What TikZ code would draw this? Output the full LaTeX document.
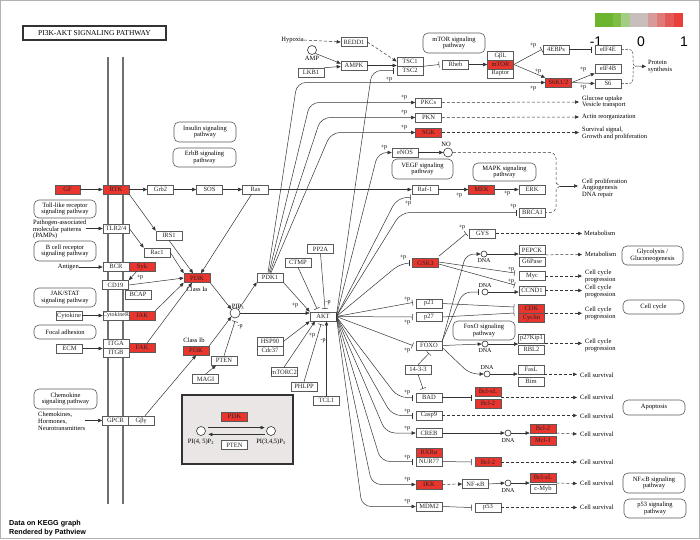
\documentclass[tikz,border=0pt]{standalone}
\usepackage{fontspec}
\setmainfont{Liberation Serif}
\newfontfamily\sansf{Liberation Sans}
\usetikzlibrary{arrows.meta}
\definecolor{hitred}{HTML}{E8352D}
\definecolor{boxc}{HTML}{5A5A5A}
\definecolor{linec}{HTML}{333333}
\definecolor{boxg}{HTML}{EAE6E6}
\definecolor{membc}{HTML}{707070}
\definecolor{cg1}{HTML}{6DB52F}
\definecolor{cg2}{HTML}{7DBD45}
\definecolor{cg3}{HTML}{A3CD85}
\definecolor{cgy}{HTML}{C8BEBC}
\definecolor{cr1}{HTML}{D79A98}
\definecolor{cr2}{HTML}{DE7B79}
\definecolor{cr3}{HTML}{E45A56}
\definecolor{cr4}{HTML}{E8403A}
\newcommand{\kgf}{\fontsize{6.5}{6.6}\selectfont}
\newcommand{\kpf}{\fontsize{6}{6}\selectfont}
\newcommand{\kgs}{\fontsize{6}{6}\selectfont}
\begin{document}
\begin{tikzpicture}[x=1pt,y=-1pt,
  gene/.style={draw=boxc, fill=white, line width=0.6pt, minimum width=26pt, minimum height=9pt, inner sep=0pt, font=\kgf, text=black!85},
  hit/.style={fill=hitred},
  pw/.style={draw=boxc, fill=white, rounded corners=5pt, line width=0.6pt, align=center, font=\kgf, inner sep=0pt},
  lbl/.style={font=\kgf, inner sep=0pt, align=left},
  pp/.style={font=\kpf, inner sep=0pt},
  met/.style={circle, draw=linec, fill=white, line width=0.6pt, inner sep=0pt, minimum size=9pt},
  dna/.style={circle, draw=linec, fill=white, line width=0.6pt, inner sep=0pt, minimum size=6pt},
  act/.style={draw=linec, line width=0.5pt, -{Triangle[length=4pt,width=3.4pt]}},
  inh/.style={draw=linec, line width=0.5pt, -{Bar[width=6pt]}},
  dsh/.style={act, dash pattern=on 3pt off 2pt},
  rnd/.style={rounded corners=9pt},
  memb/.style={draw=membc, line width=2.4pt}]
\useasboundingbox (0,0) rectangle (700,539);
\draw[gray!60, line width=1pt] (0.5,0.5) rectangle (699.5,538.5);

% colour key
\foreach \c [count=\i] in {cg1,cg1,cg2,cg3,cgy,cgy,cr1,cr2,cr3,cr4}
  \fill[\c] ({595+(\i-1)*8.8},13) rectangle ({595+\i*8.8},27);
\node[font=\sansf\fontsize{14}{14}\selectfont, inner sep=0] (km) at (596,42) {-1};
\node[font=\sansf\fontsize{14}{14}\selectfont, inner sep=0] (k0) at (641,42) {0};
\node[font=\sansf\fontsize{14}{14}\selectfont, inner sep=0] (k1) at (684,42) {1};

% title
\node[draw=linec, line width=1.2pt, minimum width=143pt, minimum height=14pt, inner sep=0, font=\fontsize{7.5}{7.5}\selectfont] (title) at (94.5,33) {PI3K-AKT SIGNALING PATHWAY};

% membrane
\draw[memb] (108,57) -- (108,504);
\draw[memb] (123,57) -- (123,504);

% pathway boxes
\node[pw, minimum width=62pt, minimum height=20pt] (pwIns) at (205,132) {Insulin signaling\\pathway};
\node[pw, minimum width=63pt, minimum height=19pt] (pwErb) at (204.5,157.5) {ErbB signaling\\pathway};
\node[pw, minimum width=62pt, minimum height=18pt] (pwToll) at (65,209) {Toll-like receptor\\signaling pathway};
\node[pw, minimum width=62pt, minimum height=20pt] (pwBc) at (65,251) {B cell receptor\\signaling pathway};
\node[pw, minimum width=62pt, minimum height=19pt] (pwJak) at (65,297.5) {JAK/STAT\\signaling pathway};
\node[pw, minimum width=62pt, minimum height=14pt] (pwFoc) at (65,332) {Focal adhesion};
\node[pw, minimum width=63pt, minimum height=20pt] (pwChem) at (65.5,399) {Chemokine\\signaling pathway};
\node[pw, minimum width=62pt, minimum height=20pt] (pwMtor) at (454,43) {mTOR signaling\\pathway};
\node[pw, minimum width=61pt, minimum height=20pt] (pwVegf) at (422.5,169) {VEGF signaling\\pathway};
\node[pw, minimum width=63pt, minimum height=18pt] (pwMapk) at (504.5,172) {MAPK signaling\\pathway};
\node[pw, minimum width=62pt, minimum height=19pt] (pwFoxo) at (484,330.5) {FoxO signaling\\pathway};
\node[pw, minimum width=61pt, minimum height=19pt] (pwGly) at (652.5,255.5) {Glycolysis /\\Gluconeogenesis};
\node[pw, minimum width=61pt, minimum height=14pt] (pwCC) at (653.5,307) {Cell cycle};
\node[pw, minimum width=62pt, minimum height=15pt] (pwApo) at (654,407.5) {Apoptosis};
\node[pw, minimum width=62pt, minimum height=20pt] (pwNfkb) at (654,483) {NF$\kappa$B signaling\\pathway};
\node[pw, minimum width=62pt, minimum height=19pt] (pwP53) at (655,508.5) {p53 signaling\\pathway};

% free texts
\node[lbl, anchor=east] (hyp) at (304,40) {Hypoxia};
\node[lbl, anchor=west] (pamp) at (33,229.5) {Pathogen-associated\\molecular patterns\\(PAMPs)};
\node[lbl, anchor=east] (antig) at (79,267) {Antigen};
\node[lbl, anchor=west, font=\fontsize{6.5}{7}\selectfont] (chemo) at (38,421) {Chemokines,\\Hormones,\\Neurotransmitters};
\node[lbl] (cla) at (197,289.5) {Class Ia};
\node[lbl] (clb) at (194,340) {Class Ib};

% left genes
\node[gene,hit,minimum width=25pt] (GF) at (67.5,189.5) {GF};
\node[gene,hit] (RTK) at (116,189.5) {RTK};
\node[gene] (Grb2) at (160.5,189.5) {Grb2};
\node[gene] (SOS) at (209.5,189.5) {SOS};
\node[gene] (Ras) at (255.5,189.5) {Ras};
\node[gene] (TLR) at (116,228.5) {TLR2/4};
\node[gene] (IRS1) at (169,235.5) {IRS1};
\node[gene] (Rac1) at (157,252.5) {Rac1};
\node[gene] (BCR) at (116,266.5) {BCR};
\node[gene,hit] (Syk) at (142,266.5) {Syk};
\node[gene] (CD19) at (115.5,285) {CD19};
\node[gene] (BCAP) at (138,294.5) {BCAP};
\node[gene,hit] (PIKa) at (197,278) {PI3K};
\node[gene] (CytR) at (116,315.5) {\kgs CytokineR};
\node[gene,hit] (JAK) at (142,315.5) {JAK};
\node[gene] (Cyt) at (69,315.5) {Cytokine};
\node[gene] (ECM) at (69.5,348.5) {ECM};
\node[gene] (ITGA) at (116,343.5) {ITGA};
\node[gene] (ITGB) at (116,352.5) {ITGB};
\node[gene,hit] (FAK) at (142,347.5) {FAK};
\node[gene,hit] (PIKb) at (196,350.5) {PI3K};
\node[gene] (PTEN) at (224,360.5) {PTEN};
\node[gene] (MAGI) at (205.5,379) {MAGI};
\node[gene] (PDK1) at (270,277.5) {PDK1};
\node[gene] (AKT) at (323,316.5) {AKT};
\node[gene] (HSP) at (270,341.5) {HSP90};
\node[gene] (Cdc) at (270,350.5) {Cdc37};
\node[gene] (mTC2) at (284,372) {mTORC2};
\node[gene] (PHLPP) at (304,386.5) {PHLPP};
\node[gene] (TCL1) at (326.5,400.5) {TCL1};
\node[gene] (CTMP) at (298,262.5) {CTMP};
\node[gene] (PP2A) at (320.5,249) {PP2A};
\node[gene] (GPCR) at (115.5,420.5) {GPCR};
\node[gene] (Gbg) at (141,420.5) {Gβγ};
\node[met, minimum size=10pt] (pip3) at (235,313) {};
\node[lbl] (pip3l) at (238,306.5) {PIP\textsubscript{3}};

% inset box
\draw[draw=linec, fill=boxg, line width=1.4pt] (182,395) rectangle (293,464);
\node[gene,hit] (PIKc) at (234.5,416.5) {PI3K};
\node[gene] (PTENc) at (234.5,445) {PTEN};
\node[met] (PIP2) at (201,431) {};
\node[met] (PIP3b) at (271,431) {};
\node[lbl] (PIP2l) at (201,441.5) {PI(4, 5)P\textsubscript{2}};
\node[lbl] (PIP3bl) at (271,442) {PI(3,4,5)P\textsubscript{3}};
\draw[act] ([xshift=4pt]PIP2.north east) -- ([xshift=-3pt]PIP3b.north west);
\draw[act] ([xshift=-3pt]PIP3b.south west) -- ([xshift=4pt]PIP2.south east);

% top genes
\node[gene] (REDD1) at (354,42) {REDD1};
\node[gene] (AMPK) at (354,65.5) {AMPK};
\node[gene] (LKB1) at (311,72.5) {LKB1};
\node[met] (amp) at (312,50) {};
\node[lbl] (ampl) at (312,58) {AMP};
\node[gene] (TSC1) at (410,61.5) {TSC1};
\node[gene] (TSC2) at (410,70.5) {TSC2};
\node[gene] (Rheb) at (455.5,64.5) {Rheb};
\node[gene] (GbL) at (500.5,55.5) {GβL};
\node[gene,hit] (mTOR) at (500.5,64.5) {mTOR};
\node[gene] (Raptor) at (500.5,73.5) {Raptor};
\node[gene] (EBP) at (556,49.5) {4EBPs};
\node[gene] (eIFE) at (608,49.5) {eIF4E};
\node[gene] (eIFB) at (608,68.5) {eIF4B};
\node[gene] (S6) at (608,83.5) {S6};
\node[gene,hit] (S6K) at (558.5,82.5) {S6K1/2};
\node[gene] (PKC) at (428.5,102.5) {PKCs};
\node[gene] (PKN) at (428.5,117.5) {PKN};
\node[gene,hit] (SGK) at (428.5,132.5) {SGK};
\node[gene] (eNOS) at (405,152.5) {eNOS};
\node[met] (no) at (448,152.5) {};
\node[lbl] (nol) at (446,144.5) {NO};
\node[gene] (Raf) at (425,189.5) {Raf-1};
\node[gene,hit] (MEK) at (481.5,189.5) {MEK};
\node[gene] (ERK) at (532,189.5) {ERK};
\node[gene] (BRCA) at (532.5,212.5) {BRCA1};

% right genes
\node[gene] (GYS) at (482.5,233.5) {GYS};
\node[gene,hit] (GSK) at (425.5,263) {GSK3};
\node[gene] (PEPCK) at (532,250) {PEPCK};
\node[gene] (G6P) at (532,261.5) {G6Pase};
\node[gene] (Myc) at (532,276) {Myc};
\node[gene] (CCND) at (532,290.5) {CCND1};
\node[gene,hit] (CDK) at (531.5,308.5) {CDK};
\node[gene,hit] (Cyc) at (531.5,317.5) {Cyclin};
\node[gene] (p21) at (429,303.5) {p21};
\node[gene] (p27) at (429,317) {p27};
\node[gene] (FOXO) at (429,345.5) {FOXO};
\node[gene] (Kip) at (531.5,338.5) {p27Kip1};
\node[gene] (RBL) at (531.5,349.5) {RBL2};
\node[gene] (F1433) at (418,369.5) {14-3-3};
\node[gene] (FasL) at (531,369.5) {FasL};
\node[gene] (Bim) at (531,381.5) {Bim};
\node[gene] (BAD) at (429,397.5) {BAD};
\node[gene] (Casp) at (429,415.5) {Casp9};
\node[gene] (CREB) at (429,433) {CREB};
\node[gene,hit] (RXR) at (429,452.5) {RXRα};
\node[gene] (NUR) at (429,461.5) {NUR77};
\node[gene,hit] (IKK) at (429,484.5) {IKK};
\node[gene] (MDM) at (429,506.5) {MDM2};
\node[gene,hit] (BxA) at (488,391.5) {Bcl-xL};
\node[gene,hit] (B2A) at (488,403.5) {Bcl-2};
\node[gene,hit] (B2B) at (543,428.5) {Bcl-2};
\node[gene,hit] (Mcl) at (543,440.5) {Mcl-1};
\node[gene,hit] (B2C) at (488,462) {Bcl-2};
\node[gene] (NFkB) at (475.5,484) {NF-κB};
\node[gene,hit] (BxB) at (543,477.5) {Bcl-xL};
\node[gene] (cMyb) at (543,488.5) {c-Myb};
\node[gene] (p53) at (488,507.5) {p53};

% DNA
\node[dna] (dna1) at (484,254) {};
\node[dna] (dna2) at (485,292) {};
\node[dna] (dna3) at (485,344) {};
\node[dna] (dna4) at (487,374) {};
\node[dna] (dna5) at (508,433) {};
\node[dna] (dna6) at (508,483) {};
\node[pp] (d1l) at (484,261) {DNA};
\node[pp] (d2l) at (485,285.5) {DNA};
\node[pp] (d3l) at (485,351) {DNA};
\node[pp] (d4l) at (487,367.5) {DNA};
\node[pp] (d5l) at (508,441) {DNA};
\node[pp] (d6l) at (508,491) {DNA};

% outcomes
\node[lbl, anchor=west] (oGlu) at (582,102) {Glucose uptake\\Vesicle transport};
\node[lbl, anchor=west] (oAct) at (582,117) {Actin reorganization};
\node[lbl, anchor=west] (oSur) at (582,133.5) {Survival signal,\\Growth and proliferation};
\node[lbl, anchor=west] (oProl) at (582,188) {Cell proliferation\\Angiogenesis\\DNA repair};
\node[lbl, anchor=west] (oProt) at (648,66.5) {Protein\\synthesis};
\node[lbl, anchor=west] (oMet1) at (584,233.5) {Metabolism};
\node[lbl, anchor=west] (oMet2) at (585,254.5) {Metabolism};
\node[lbl, anchor=west] (oCC1) at (585,276.5) {Cell cycle\\progression};
\node[lbl, anchor=west] (oCC2) at (585,291.5) {Cell cycle\\progression};
\node[lbl, anchor=west] (oCC3) at (585,313.5) {Cell cycle\\progression};
\node[lbl, anchor=west] (oCC4) at (585,345.5) {Cell cycle\\progression};
\node[lbl, anchor=west] (oCS1) at (580,375) {Cell survival};
\node[lbl, anchor=west] (oCS2) at (580,397.5) {Cell survival};
\node[lbl, anchor=west] (oCS3) at (580,416) {Cell survival};
\node[lbl, anchor=west] (oCS4) at (580,434) {Cell survival};
\node[lbl, anchor=west] (oCS5) at (580,462) {Cell survival};
\node[lbl, anchor=west] (oCS6) at (580,483.5) {Cell survival};
\node[lbl, anchor=west] (oCS7) at (580,507.5) {Cell survival};

\node[anchor=west, align=left, inner sep=0, font=\sansf\bfseries\fontsize{7.2}{9}\selectfont] (credit) at (9,528.5) {Data on KEGG graph\\Rendered by Pathview};

% ---- connectors: left part
\draw[act] (GF.east) -- (RTK.west);
\draw[act] (RTK.east) -- (Grb2.west);
\draw[act] (Grb2.east) -- (SOS.west);
\draw[act] (SOS.east) -- (Ras.west);
\draw[act] (Ras.east) -- (Raf.west);
\draw[act] (RTK.south east) -- (IRS1.north west);
\draw[act] (IRS1.south) -- ([xshift=-4pt]PIKa.north);
\draw[act] ([xshift=-4pt]Ras.south) -- ([xshift=4pt]PIKa.north);
\draw[act] (pamp.east |- TLR.west) -- (TLR.west);
\draw[act] (antig.east) -- (antig.east -| BCR.west);
\draw[act] (TLR.east) -- (Rac1.north west);
\draw[act] (Rac1.east) -- (PIKa.north west);
\draw[act] ([xshift=8pt]Syk.south west) -- (CD19.north east);
\draw[act] (CD19.east) -- (PIKa.west);
\draw[act] (JAK.north east) -- (PIKa.south west);
\draw[act] ([xshift=-8pt]FAK.north east) -- ([xshift=-5pt]PIKa.south);
\draw[act] (Cyt.east) -- (CytR.west);
\draw[act] (ECM.east) -- (ECM.east -| ITGA.west);
\draw[act] (chemo.east |- GPCR.west) -- (GPCR.west);
\draw[act] (PIKa.south east) -- (pip3.north west);
\draw[act] (PIKb.north east) -- (pip3.south west);
\draw[act] ([xshift=4pt]Gbg.north) -- (PIKb.south);
\draw[inh] (PTEN.north) -- ([yshift=-3pt]pip3.south);
\draw[act] (MAGI.north) -- ([xshift=-8pt]PTEN.south);
\draw[act] (pip3.north east) -- (PDK1.south west);
\draw[act] (pip3.east) -- (AKT.west |- pip3.east);
\draw[act] (PDK1.south east) -- (AKT.north west);
\draw[inh] (CTMP.south) -- ([xshift=-6pt,yshift=3pt]AKT.north);
\draw[inh] (PP2A.south) -- ([xshift=2pt,yshift=3pt]AKT.north);
\draw[act] (HSP.east) -- (AKT.south west);
\draw[act] (mTC2.north) -- ([xshift=-8pt]AKT.south);
\draw[inh] (PHLPP.north) -- ([xshift=-2pt,yshift=-3pt]AKT.south);
\draw[act] (TCL1.north) -- (TCL1.north |- AKT.south);

% ---- top
\draw[dsh] (hyp.east) -- (REDD1.west);
\draw[dsh] (REDD1.east) -- (TSC1.west);
\draw[act] (amp.south east) -- ([yshift=2pt]AMPK.west);
\draw[act] (LKB1.north east) -- ([yshift=-1pt]AMPK.west);
\draw[act] (AMPK.east) -- (AMPK.east -| TSC1.west);
\draw[inh] (TSC1.south east) -- ([xshift=-3pt]Rheb.west);
\draw[act] (Rheb.east) -- (mTOR.west);
\draw[inh] (mTOR.east) -- ([xshift=-1pt]EBP.west);
\draw[inh] (EBP.east) -- ([xshift=-3pt]eIFE.west);
\draw[act] (mTOR.east) -- (S6K.north west);
\draw[act] (S6K.east) -- (eIFB.south west);
\draw[act] (S6K.east) -- (S6.west);
\draw[dsh, dash pattern=on 2.5pt off 1.5pt, -] (eIFE.east) -- (628,49.5) .. controls (633,49.5) and (633,52) .. (633,57) -- (633,62) .. controls (633,65) .. (636,66);
\draw[dsh, dash pattern=on 2.5pt off 1.5pt, -] (S6.east) -- (628,83.5) .. controls (633,83.5) and (633,81) .. (633,76) -- (633,70) .. controls (633,67) .. (636,66);
\draw[act] (636,66) -- ([xshift=-2pt]oProt.west);

% PDK1 fan
\draw[act, rnd] ([xshift=-2pt]PDK1.north) -- (297,82.5) -- (S6K.west);
\draw[act, rnd] ([xshift=-1pt]PDK1.north) -- (310,102.5) -- (PKC.west);
\draw[act, rnd] (PDK1.north) -- (321,117.5) -- (PKN.west);
\draw[act, rnd] ([xshift=1pt]PDK1.north) -- (331,132.5) -- (SGK.west);
\draw[dsh] (PKC.east) -- ([xshift=-3pt]oGlu.west);
\draw[dsh] (PKN.east) -- ([xshift=-3pt]oAct.west);
\draw[dsh] (SGK.east) -- ([xshift=-3pt]oSur.west |- SGK.east);

% AKT fan
\draw[inh, rnd] (AKT.east) -- (372,70.5) -- ([xshift=-3pt]TSC2.west);
\draw[act, rnd] (AKT.east) -- (378,152.5) -- (eNOS.west);
\draw[inh, rnd] (AKT.east) -- (397,198) -- ([xshift=-1pt,yshift=-3pt]Raf.south west);
\draw[inh, rnd] (AKT.east) -- (401,212.5) -- ([xshift=-3pt]BRCA.west);
\draw[inh, rnd] (AKT.east) -- (401,263) -- ([xshift=-3pt]GSK.west);
\draw[inh] (AKT.east) -- ([xshift=-3pt,yshift=1pt]p21.west);
\draw[inh] (AKT.east) -- ([xshift=-3pt]p27.west);
\draw[inh] (AKT.east) -- ([xshift=-3pt]FOXO.west);
\draw[inh, rnd] (AKT.east) -- (398,397.5) -- ([xshift=-3pt]BAD.west);
\draw[inh, rnd] (AKT.east) -- (392,415.5) -- ([xshift=-3pt]Casp.west);
\draw[act, rnd] (AKT.east) -- (386,433) -- (CREB.west);
\draw[inh, rnd] (AKT.east) -- (381,461.5) -- ([xshift=-3pt]NUR.west);
\draw[act, rnd] (AKT.east) -- (372,484.5) -- (IKK.west);
\draw[act, rnd] (AKT.east) -- (362,506.5) -- (MDM.west);

% eNOS, Raf, MEK
\draw[act] (eNOS.east) -- (no.west);
\draw[act] (Raf.east) -- (MEK.west);
\draw[act] (MEK.east) -- (ERK.west);
\draw[dsh, -, rounded corners=6pt] (no.east) -- (556,152.5) -- (556,183);
\draw[dsh, -] (556,183) -- (560,186) -- (556,189);
\draw[dsh, -, rounded corners=6pt] (556,189) -- (556,212.5) -- (BRCA.east);
\draw[act] (560,186) -- ([xshift=-4pt]oProl.west |- 0,186);

% GSK3
\draw[inh] ([yshift=2pt]GSK.north east) -- ([xshift=-3pt]GYS.west);
\draw[inh] ([yshift=1pt]GSK.east) -- ([xshift=-4pt,yshift=3pt]Myc.west);
\draw[inh] ([yshift=-1pt]GSK.east) -- ([xshift=-4pt,yshift=5.5pt]CCND.west);
\draw[dsh] (GYS.east) -- ([xshift=-2pt]oMet1.west);
\draw[dsh] (PEPCK.south east) -- ([xshift=-3pt]oMet2.west);
\draw[dsh] (Myc.east) -- ([xshift=-3pt]oCC1.west |- Myc.east);
\draw[dsh] (CCND.east) -- ([xshift=-3pt]oCC2.west |- CCND.east);
\draw[dsh] (CDK.south east) -- ([xshift=-3pt]oCC3.west |- CDK.south east);
\draw[dsh] (Kip.south east) -- ([xshift=-3pt]oCC4.west |- Kip.south east);

% p21 p27 FOXO
\draw[inh] (p21.east) -- ([xshift=-4pt,yshift=1.5pt]CDK.west);
\draw[inh] (p27.east) -- ([xshift=-4pt,yshift=4.5pt]Cyc.west);
\draw[act, rounded corners=8pt] (FOXO.north east) -- (466,254) -- (dna1.west);
\draw[inh, rounded corners=8pt] (FOXO.north east) -- (463,292) -- ([xshift=-3pt]dna2.west);
\draw[act] (FOXO.east) -- (dna3.west);
\draw[act, rounded corners=8pt] ([yshift=-2pt]FOXO.east) -- (470,374) -- (dna4.west);
\draw[act] (dna1.east) -- (dna1.east -| PEPCK.west);
\draw[act] (dna2.east) -- (dna2.east -| CCND.west);
\draw[act] (dna3.east) -- (dna3.east -| Kip.west);
\draw[act] (dna4.east) -- (dna4.east -| FasL.west);
\draw[inh] (F1433.north) -- ([yshift=-3pt]FOXO.south);
\draw[inh] (F1433.south) -- ([xshift=-6pt,yshift=4pt]BAD.north);

% apoptosis block
\draw[inh] (BAD.east) -- ([xshift=-3pt,yshift=-6pt]BxA.west);
\draw[inh] (NUR.east) -- ([xshift=-3pt]B2C.west);
\draw[act] (CREB.east) -- (dna5.west);
\draw[act] (dna5.east) -- ([yshift=-4.5pt]B2B.west);
\draw[dsh] (IKK.east) -- (NFkB.west);
\draw[act] (NFkB.east) -- (dna6.west);
\draw[act] (dna6.east) -- ([yshift=-5.5pt]BxB.west);
\draw[inh] (MDM.east) -- ([xshift=-3pt]p53.west);
\draw[dsh] (FasL.south east) -- ([xshift=-3pt]oCS1.west |- FasL.south east);
\draw[dsh] ([yshift=-6pt]BxA.east) -- ([xshift=-3pt]oCS2.west);
\draw[dsh] (Casp.east) -- ([xshift=-3pt]oCS3.west |- Casp.east);
\draw[dsh] ([yshift=-4.5pt]B2B.east) -- ([xshift=-3pt]oCS4.west);
\draw[dsh] (B2C.east) -- ([xshift=-3pt]oCS5.west);
\draw[dsh] ([yshift=-5.5pt]BxB.east) -- ([xshift=-3pt]oCS6.west);
\draw[dsh] (p53.east) -- ([xshift=-3pt]oCS7.west);

% +p and -p labels
\foreach \x/\y [count=\i] in {140/277, 295/305, 312/335, 389/79, 384/147, 404/97, 404/112, 404/127,
  533/45, 538/71, 533/88, 583/69, 583/87, 459/195, 507/193, 408/203, 513/206, 462/227, 403/257,
  511/269, 511/281, 407/299, 407/322, 407/350, 407/392, 407/411, 407/428, 407/457, 407/479, 407/501}
  \node[pp] (plus\i) at (\x,\y) {+p};
\foreach \x/\y [count=\i] in {240/327, 328/303, 323/341}
  \node[pp] (minus\i) at (\x,\y) {-p};
\end{tikzpicture}
\end{document}
